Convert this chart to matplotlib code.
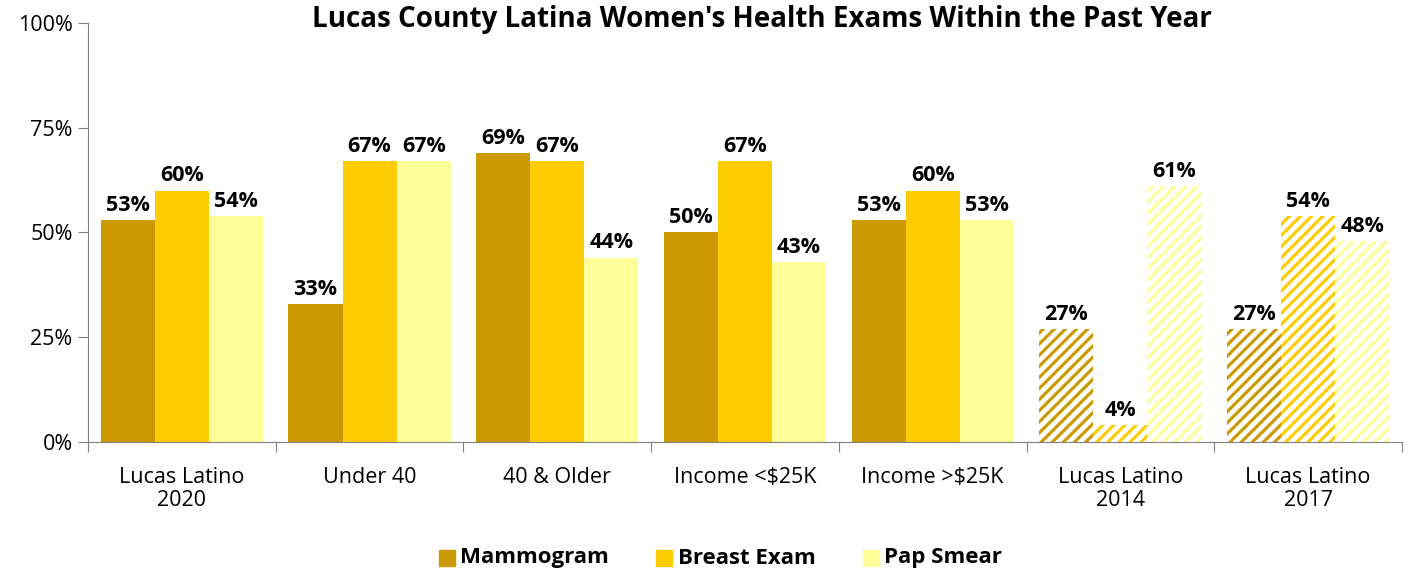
import numpy as np
import matplotlib
matplotlib.use('Agg')
import matplotlib.pyplot as plt

# data
groups = ["Lucas Latino\n2020", "Under 40", "40 & Older", "Income <$25K",
          "Income >$25K", "Lucas Latino\n2014", "Lucas Latino\n2017"]
mammogram = [53, 33, 69, 50, 53, 27, 27]
breast_exam = [60, 67, 67, 67, 60, 4, 54]
pap_smear = [54, 67, 44, 43, 53, 61, 48]
series_names = ["Mammogram", "Breast Exam", "Pap Smear"]
colors = ["#CC9900", "#FFCC00", "#FFFF99"]
hatched = [False, False, False, False, False, True, True]

plt.rcParams['font.family'] = ['Open Sans', 'DejaVu Sans']
plt.rcParams['hatch.linewidth'] = 3.4
plt.rcParams['hatch.color'] = 'white'

fig = plt.figure(figsize=(14.08, 5.71), dpi=100)
ax = fig.add_axes([88/1408, 1-442/571, 1314/1408, 419/571])

x = np.arange(len(groups))
w = 0.288
series = [mammogram, breast_exam, pap_smear]
for k, (vals, col, name) in enumerate(zip(series, colors, series_names)):
    pos = x + (k-1)*w
    for i in range(len(groups)):
        if hatched[i]:
            ax.bar(pos[i], vals[i], w, color=col, hatch='///', edgecolor='white', linewidth=0)
        else:
            ax.bar(pos[i], vals[i], w, color=col, linewidth=0)
        ax.text(pos[i], vals[i]+1.0, f"{vals[i]}%", ha='center', va='bottom',
                fontsize=15.5, fontweight='bold')
    # legend proxy
    ax.scatter([], [], marker='s', s=120, color=col, label=name)

ax.set_xlim(-0.5, len(groups)-0.5)
ax.set_ylim(0, 100)
ax.set_yticks([0, 25, 50, 75, 100])
ax.set_yticklabels([f"{v}%" for v in [0, 25, 50, 75, 100]], fontsize=15.5)
ax.set_xticks(np.arange(-0.5, len(groups), 1))
ax.set_xticklabels([])
ax.set_xticks(x, minor=True)
ax.set_xticklabels(groups, minor=True, fontsize=15.5, linespacing=1.12)
ax.tick_params(axis='x', which='major', length=7, color='#808080', direction='out')
ax.tick_params(axis='x', which='minor', length=0, pad=18)
ax.tick_params(axis='y', length=7, color='#808080', direction='out', pad=4)
for s in ['top', 'right']:
    ax.spines[s].set_visible(False)
for s in ['left', 'bottom']:
    ax.spines[s].set_color('#808080')

fig.text(762/1408, 1-19/571, "Lucas County Latina Women's Health Exams Within the Past Year",
         ha='center', va='center', fontsize=20, fontweight='bold')

lg = fig.legend(loc='center', bbox_to_anchor=(721/1408, 1-558/571), ncol=3, frameon=False,
                prop={'weight': 'bold', 'size': 16}, handlelength=0.6, handletextpad=0.3,
                columnspacing=2.2, scatterpoints=1)

fig.savefig('out.png', dpi=100)
